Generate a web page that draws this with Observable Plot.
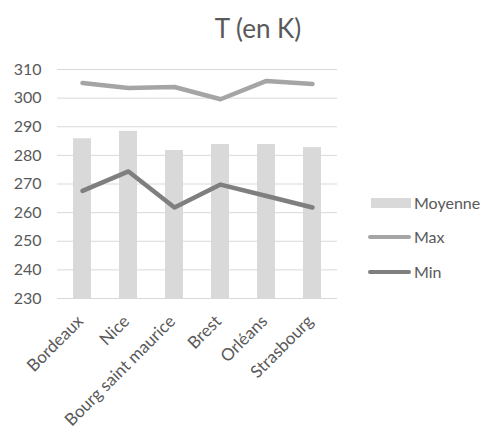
<!DOCTYPE html>
<html>
<head>
<meta charset="utf-8">
<script src="https://cdn.jsdelivr.net/npm/d3@7"></script>
<script src="https://cdn.jsdelivr.net/npm/@observablehq/plot@0.6"></script>
<style>
  html, body { margin: 0; padding: 0; background: #fff; }
  #wrap { position: relative; width: 488px; height: 433px; overflow: hidden; font-family: Lato, "Open Sans", sans-serif; color: #595959; }
  #title { position: absolute; left: 0; width: 516px; top: 12px; text-align: center; font-size: 26px; }
  .leg { position: absolute; left: 368px; font-size: 16px; display: flex; align-items: center; white-space: nowrap; }
  .sw { width: 43px; margin-right: 3px; }
</style>
</head>
<body>
<div id="wrap">
  <div id="chart"></div>
  <div id="title">T (en K)</div>
  <div id="legend"></div>
</div>
<script>
const cities = ["Bordeaux", "Nice", "Bourg saint maurice", "Brest", "Orléans", "Strasbourg"];
const moyenne = [285.8, 288.4, 281.7, 283.8, 283.8, 282.7];
const maxT = [305.3, 303.5, 303.9, 299.6, 306.0, 304.9];
const minT = [267.6, 274.4, 261.8, 269.8, 265.8, 261.8];
const yTicks = [230, 240, 250, 260, 270, 280, 290, 300, 310];
const seriesNames = ["Moyenne", "Max", "Min"];
const colors = {Moyenne: "#d9d9d9", Max: "#a5a5a5", Min: "#7f7f7f"};

const rows = cities.map((c, i) => ({city: c, moyenne: moyenne[i], max: maxT[i], min: minT[i]}));

const chart = Plot.plot({
  width: 488,
  height: 433,
  marginLeft: 57,
  marginRight: 151,
  marginTop: 69,
  marginBottom: 135,
  style: {fontFamily: "Lato, 'Open Sans', sans-serif", fontSize: "16px", color: "#595959", background: "transparent"},
  x: {domain: cities, paddingInner: 0.6, paddingOuter: 0.3, label: null},
  y: {domain: [230, 310], label: null},
  marks: [
    Plot.gridY(yTicks, {stroke: "#d9d9d9", strokeOpacity: 1, strokeWidth: 1}),
    Plot.barY(rows, {x: "city", y1: 230, y2: "moyenne", fill: colors.Moyenne}),
    Plot.line(rows, {x: "city", y: "max", stroke: colors.Max, strokeWidth: 4.5, strokeLinejoin: "round", strokeLinecap: "round"}),
    Plot.line(rows, {x: "city", y: "min", stroke: colors.Min, strokeWidth: 4.5, strokeLinejoin: "round", strokeLinecap: "round"}),
    Plot.axisY({ticks: yTicks, tickSize: 0, tickPadding: 16, label: null}),
    Plot.axisX({tickSize: 0, tickPadding: 20, dx: -2, tickRotate: -45, fontSize: 17, label: null})
  ]
});
document.getElementById("chart").appendChild(chart);

const legend = document.getElementById("legend");
const legTops = [203, 237, 272];
seriesNames.forEach((name, i) => {
  const d = document.createElement("div");
  d.className = "leg";
  d.style.top = (legTops[i] - 10) + "px";
  const sw = document.createElement("div");
  sw.className = "sw";
  if (name === "Moyenne") {
    sw.style.height = "10px";
    sw.style.background = colors[name];
    sw.style.marginLeft = "3px";
    sw.style.width = "40px";
  } else {
    sw.style.height = "4px";
    sw.style.borderRadius = "2px";
    sw.style.background = colors[name];
  }
  const t = document.createElement("span");
  t.textContent = name;
  d.appendChild(sw);
  d.appendChild(t);
  legend.appendChild(d);
});
</script>
</body>
</html>
